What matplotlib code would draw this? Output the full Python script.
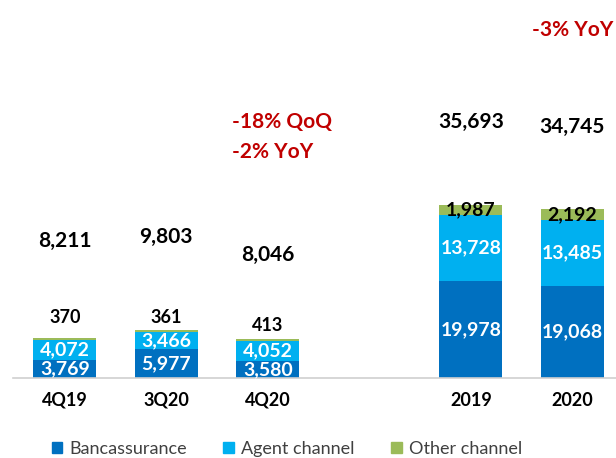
import numpy as np
import matplotlib.pyplot as plt
from matplotlib.patches import Patch

plt.rcParams['font.family'] = ['Lato', 'DejaVu Sans']

# data
periods = ['4Q19', '3Q20', '4Q20', '2019', '2020']
bancassurance = [3769, 5977, 3580, 19978, 19068]
agent = [4072, 3466, 4052, 13728, 13485]
other = [370, 361, 413, 1987, 2192]
totals = [8211, 9803, 8046, 35693, 34745]

# where the floating labels sit (data units)
total_label_y = [28200, 29100, 25400, 52800, 51750]
other_label_y = [12400, 12400, 10900]

c_banc = '#0070C0'
c_agent = '#00B0F0'
c_other = '#9BBB59'
red = '#C00000'

x = np.array([0, 1, 2, 4, 5])
w = 0.62

fig = plt.figure(figsize=(6.16, 4.58), dpi=100)
ax = fig.add_axes([13 / 616, 80 / 458, 1 - 13 / 616, 378 / 458])

banc = np.array(bancassurance)
agt = np.array(agent)
oth = np.array(other)

ax.bar(x, banc, w, color=c_banc)
ax.bar(x, agt, w, bottom=banc, color=c_agent)
ax.bar(x, oth, w, bottom=banc + agt, color=c_other)

for i, xi in enumerate(x):
    ax.text(xi, banc[i] / 2, f'{banc[i]:,}', ha='center', va='center',
            color='white', fontsize=14, fontweight='bold')
    ax.text(xi, banc[i] + agt[i] / 2, f'{agt[i]:,}', ha='center', va='center',
            color='white', fontsize=14, fontweight='bold')
    if i < 3:
        ax.text(xi, other_label_y[i], f'{oth[i]:,}', ha='center', va='center',
                color='black', fontsize=13, fontweight='bold')
    else:
        ax.text(xi, banc[i] + agt[i] + oth[i] / 2, f'{oth[i]:,}', ha='center',
                va='center', color='black', fontsize=14, fontweight='bold')
    ax.text(xi, total_label_y[i], f'{totals[i]:,}', ha='center', va='center',
            color='black', fontsize=15, fontweight='bold')

# growth notes
ax.text(1.645, 52700, '-18% QoQ', ha='left', va='center', color=red,
        fontsize=15, fontweight='bold')
ax.text(1.645, 46500, '-2% YoY', ha='left', va='center', color=red,
        fontsize=15, fontweight='bold')
ax.text(4.6, 71750, '-3% YoY', ha='left', va='center', color=red,
        fontsize=15, fontweight='bold', clip_on=False)

ax.set_xlim(-0.51, 5.43)
ax.set_ylim(0, 77940)
ax.set_xticks(x)
ax.set_xticklabels(periods, fontsize=13, fontweight='bold')
ax.tick_params(axis='x', length=0, pad=10)
ax.set_yticks([])
for s in ['top', 'right', 'left']:
    ax.spines[s].set_visible(False)
ax.spines['bottom'].set_color('#D0D0D0')
ax.spines['bottom'].set_linewidth(1.2)

handles = [Patch(color=c_banc), Patch(color=c_agent), Patch(color=c_other)]
fig.legend(handles, ['Bancassurance', 'Agent channel', 'Other channel'],
           loc='center', bbox_to_anchor=(287 / 616, 1 - 449 / 458), ncol=3,
           frameon=False, fontsize=13, handlelength=0.6, handleheight=0.6,
           handletextpad=0.4, columnspacing=2.0, labelcolor='#404040')

fig.savefig('out.png', dpi=100)
